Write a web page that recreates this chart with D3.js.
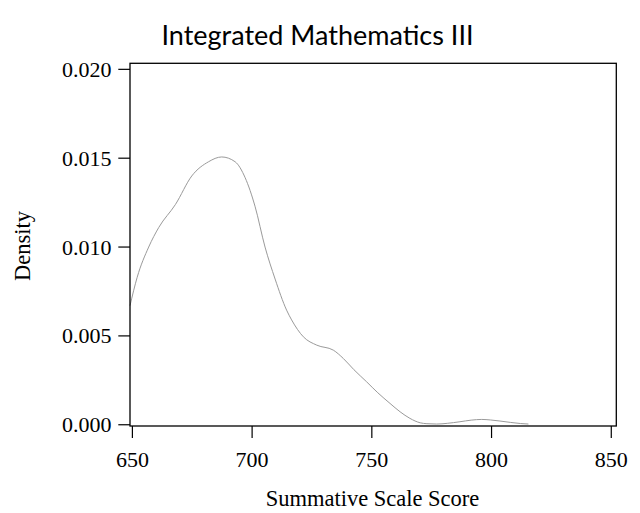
<!DOCTYPE html>
<html>
<head>
<meta charset="utf-8">
<script src="https://cdn.jsdelivr.net/npm/d3@7"></script>
<style>
  body { margin: 0; background: #fff; }
  svg { display: block; }
</style>
</head>
<body>
<script>
// score values along the density curve
const scores = [649, 652, 656.8, 661, 668, 674.8, 681.8, 687.3, 692.9, 697.1, 701.2, 705.4,
    709.6, 714.4, 716.5, 721.4, 727, 733.9, 738.1, 742.5, 747.8, 752.5, 757.6, 761.8, 765.9,
    770.2, 773, 777.1, 781.5, 786.8, 791.5, 795.9, 799.5, 803.5, 808, 812, 815.4];

// estimated density at each score
const densities = [0.0067, 0.0083, 0.0100, 0.0111, 0.0124, 0.0140, 0.0148, 0.01507, 0.0148,
    0.0139, 0.0123, 0.0100, 0.0082, 0.00645, 0.0059, 0.00495, 0.00448, 0.0042, 0.00373, 0.0031,
    0.00242, 0.0018, 0.0012, 0.00073, 0.00036, 0.00011, 0.00006, 0.00004, 0.00008, 0.00017,
    0.00026, 0.0003, 0.00027, 0.00021, 0.00013, 0.00007, 0.00004];

const xTicks = [650, 700, 750, 800, 850];
const yTicks = [0, 0.005, 0.010, 0.015, 0.020];

let w = 640,
    h = 513;

// plot box edges
let boxL = 130,
    boxR = 616.3,
    boxT = 63.3,
    boxB = 426;

let svg = d3.select("body")
    .append("svg")
    .attr("width", w)
    .attr("height", h);

let x = d3.scaleLinear()
    .domain([649, 852.1])
    .range([boxL, boxR]);

let y = d3.scaleLinear()
    .domain([-0.00007, 0.02034])
    .range([boxB, boxT]);

// title
svg.append("text")
    .attr("x", 317.5)
    .attr("y", 45)
    .attr("text-anchor", "middle")
    .style("font-family", "Lato, 'Open Sans', sans-serif")
    .style("font-size", "27px")
    .attr("fill", "#000")
    .text("Integrated Mathematics III");

// curve
let pts = scores.map((s, i) => [s, densities[i]]);

let line = d3.line()
    .x(d => x(d[0]))
    .y(d => y(d[1]))
    .curve(d3.curveMonotoneX);

svg.append("path")
    .datum(pts)
    .attr("d", line)
    .attr("fill", "none")
    .attr("stroke", "#9a9a9a")
    .attr("stroke-width", 1);

// plot frame
svg.append("rect")
    .attr("x", boxL)
    .attr("y", boxT)
    .attr("width", boxR - boxL)
    .attr("height", boxB - boxT)
    .attr("fill", "none")
    .attr("stroke", "#000")
    .attr("stroke-width", 1.3);

// y axis ticks + labels
let yg = svg.append("g");
yg.selectAll("line")
    .data(yTicks)
    .enter()
    .append("line")
    .attr("x1", boxL - 11.7)
    .attr("x2", boxL)
    .attr("y1", d => y(d))
    .attr("y2", d => y(d))
    .attr("stroke", "#000")
    .attr("stroke-width", 1.2);

yg.selectAll("text")
    .data(yTicks)
    .enter()
    .append("text")
    .attr("x", 111.5)
    .attr("y", d => y(d) + 7.5)
    .attr("text-anchor", "end")
    .style("font-family", "'Liberation Serif', 'Times New Roman', serif")
    .style("font-size", "22px")
    .text(d => d3.format(".3f")(d));

// x axis ticks + labels
let xg = svg.append("g");
xg.selectAll("line")
    .data(xTicks)
    .enter()
    .append("line")
    .attr("x1", d => x(d))
    .attr("x2", d => x(d))
    .attr("y1", boxB)
    .attr("y2", boxB + 12)
    .attr("stroke", "#000")
    .attr("stroke-width", 1.2);

xg.selectAll("text")
    .data(xTicks)
    .enter()
    .append("text")
    .attr("x", d => x(d))
    .attr("y", 467)
    .attr("text-anchor", "middle")
    .style("font-family", "'Liberation Serif', 'Times New Roman', serif")
    .style("font-size", "22px")
    .text(d => d);

// axis titles
svg.append("text")
    .attr("x", 372.5)
    .attr("y", 506)
    .attr("text-anchor", "middle")
    .style("font-family", "'Liberation Serif', 'Times New Roman', serif")
    .style("font-size", "22.5px")
    .text("Summative Scale Score");

svg.append("text")
    .attr("transform", "translate(30, 246) rotate(-90)")
    .attr("text-anchor", "middle")
    .style("font-family", "'Liberation Serif', 'Times New Roman', serif")
    .style("font-size", "22.5px")
    .text("Density");
</script>
</body>
</html>
